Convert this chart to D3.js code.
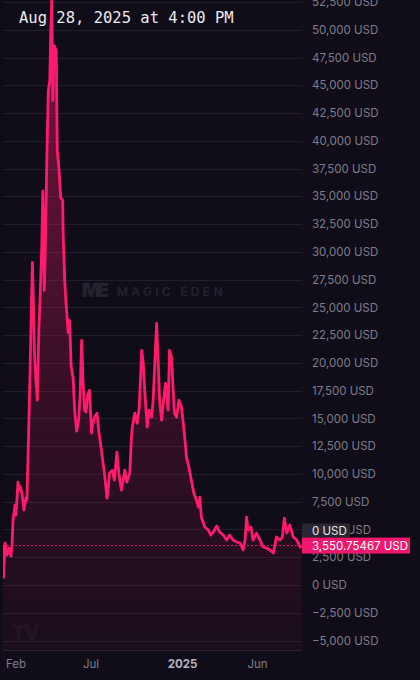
<!DOCTYPE html>
<html><head><meta charset="utf-8">
<script src="https://cdn.jsdelivr.net/npm/d3@7"></script>
<style>
html,body{margin:0;padding:0;background:#100d18;}
svg{display:block;}
</style></head>
<body>
<script>
const dates = ["2024-01-06","2024-01-07","2024-01-10","2024-01-14","2024-01-18","2024-01-22","2024-01-24","2024-01-26","2024-01-30","2024-02-01",
"2024-02-05","2024-02-07","2024-02-09","2024-02-13","2024-02-17","2024-02-21","2024-02-23","2024-02-25","2024-02-27","2024-02-29",
"2024-03-02","2024-03-05","2024-03-07","2024-03-09","2024-03-12","2024-03-15","2024-03-18","2024-03-21","2024-03-24","2024-03-26",
"2024-03-29","2024-03-31","2024-04-03","2024-04-06","2024-04-09","2024-04-11","2024-04-13","2024-04-15","2024-04-18","2024-04-22",
"2024-04-24","2024-04-27","2024-05-01","2024-05-05","2024-05-06","2024-05-09","2024-05-12","2024-05-16","2024-05-19","2024-05-22",
"2024-05-26","2024-05-29","2024-06-02","2024-06-06","2024-06-09","2024-06-12","2024-06-15","2024-06-18","2024-06-21","2024-06-24",
"2024-06-28","2024-07-02","2024-07-04","2024-07-08","2024-07-13","2024-07-17","2024-07-22","2024-07-25","2024-07-28","2024-08-02",
"2024-08-04","2024-08-07","2024-08-13","2024-08-17","2024-08-22","2024-08-26","2024-08-31","2024-09-03","2024-09-07","2024-09-11",
"2024-09-17","2024-09-20","2024-09-22","2024-09-27","2024-10-02","2024-10-06","2024-10-11","2024-10-14","2024-10-17","2024-10-22",
"2024-10-26","2024-10-31","2024-11-03","2024-11-06","2024-11-10","2024-11-13","2024-11-16","2024-11-20","2024-11-24","2024-11-28",
"2024-12-03","2024-12-06","2024-12-10","2024-12-13","2024-12-16","2024-12-20","2024-12-25","2024-12-30","2025-01-02","2025-01-06",
"2025-01-09","2025-01-14","2025-01-19","2025-01-24","2025-01-29","2025-02-02","2025-02-05","2025-02-08","2025-02-15","2025-02-22",
"2025-02-27","2025-03-04","2025-03-11","2025-03-17","2025-03-24","2025-03-31","2025-04-06","2025-04-13","2025-04-20","2025-04-27",
"2025-05-03","2025-05-07","2025-05-10","2025-05-13","2025-05-19","2025-05-23","2025-05-30","2025-06-06","2025-06-12","2025-06-19",
"2025-06-26","2025-07-03","2025-07-09","2025-07-16","2025-07-21","2025-07-25","2025-07-30","2025-08-05","2025-08-12","2025-08-19",
"2025-08-26","2025-08-28"];
const prices = [3600,700,3780,2700,3330,2600,3600,5850,7200,6300,
9260,8540,8900,8270,6750,7820,7640,11240,14840,18440,
22930,29050,25630,21130,18440,16640,22930,26530,30670,35500,
26530,30130,38220,44510,45410,49910,52700,43620,48560,48110,
39120,37770,34890,34620,31470,27430,25180,22750,23830,19690,
18620,15740,13850,14840,17090,22030,18260,15740,15560,17090,
17540,13670,14390,15110,15470,13670,12140,11060,10070,7820,
8360,10070,10340,9440,11960,10070,8540,9260,10340,9260,
10070,13040,14210,15470,14570,16010,21130,20050,17540,14210,
15740,15110,16640,19600,23560,20230,16640,14840,16640,18170,
15740,21130,20500,17810,15470,15110,16640,16010,14840,13040,
11510,10610,9440,8270,7640,7010,7910,6120,5220,4950,
4500,4770,5310,4770,4500,4050,4500,4050,3870,3780,
3150,4050,6120,4950,5220,4050,4680,4050,3420,3330,
3150,2880,4320,4050,4320,6030,4680,5400,4320,4050,
3420,3550.75467];
const yTicks = [-5000,-2500,0,2500,5000,7500,10000,12500,15000,17500,20000,22500,25000,27500,30000,32500,35000,37500,40000,42500,45000,47500,50000,52500];
const xTickDates = ["2024-02-01","2024-07-01","2025-01-01","2025-06-01"];
const xTickLabels = ["Feb","Jul","2025","Jun"];
const title = "Aug 28, 2025 at 4:00 PM";
const lastPrice = 3550.75467;
const lastLabel = "3,550.75467 USD";
const crossLabel = "0 USD";

const W = 420, H = 680;
const parse = d3.utcParse("%Y-%m-%d");
const data = dates.map((d,i)=>({date:parse(d), value:prices[i]}));

const x = d3.scaleUtc().domain([parse("2024-02-01"), parse("2025-06-01")]).range([16, 257.5]);
const y = d3.scaleLinear().domain([0, 52500]).range([585, 2]);
const plotL = 3, plotR = 302, plotB = 650;

const svg = d3.select("body").append("svg").attr("width", W).attr("height", H);
svg.append("rect").attr("width", W).attr("height", H).attr("fill", "#100d18");

const defs = svg.append("defs");
const grad = defs.append("linearGradient").attr("id","fillg").attr("gradientUnits","userSpaceOnUse")
  .attr("x1",0).attr("y1",0).attr("x2",0).attr("y2",plotB);
grad.append("stop").attr("offset","0").attr("stop-color","#ff1a6c").attr("stop-opacity",0.45);
grad.append("stop").attr("offset","0.6").attr("stop-color","#ff1a6c").attr("stop-opacity",0.16);
grad.append("stop").attr("offset","1").attr("stop-color","#ff1a6c").attr("stop-opacity",0.04);
defs.append("clipPath").attr("id","clip").append("rect").attr("x",plotL).attr("y",0).attr("width",plotR-plotL).attr("height",plotB);

// grid
const grid = svg.append("g");
grid.selectAll("line.g").data(yTicks).join("line")
  .attr("x1", plotL).attr("x2", plotR).attr("y1", d=>Math.round(y(d))+0.5).attr("y2", d=>Math.round(y(d))+0.5)
  .attr("stroke", "#221f2c").attr("stroke-width", 1);
grid.append("line").attr("x1",plotL).attr("x2",plotR).attr("y1",plotB+0.5).attr("y2",plotB+0.5).attr("stroke","#2a2733");

// watermark
const wm = svg.append("g").attr("fill","#25222f");
wm.append("text").attr("x",82).attr("y",297).attr("font-family","Inter, sans-serif").attr("font-weight",900)
  .attr("font-size",19).attr("letter-spacing",-3).text("ME");
wm.append("text").attr("x",117).attr("y",296).attr("font-family","Inter, sans-serif").attr("font-weight",600)
  .attr("font-size",12).attr("letter-spacing",3.3).text("MAGIC EDEN");
svg.append("text").attr("x",12).attr("y",640).attr("fill","#17141f").attr("font-family","Inter, sans-serif")
  .attr("font-weight",900).attr("font-size",20).attr("letter-spacing",-2).text("TV");

// area + line
const g = svg.append("g").attr("clip-path","url(#clip)");
g.append("path").datum(data)
  .attr("d", d3.area().x(d=>x(d.date)).y0(plotB).y1(d=>y(d.value)))
  .attr("fill","url(#fillg)");
g.append("line").attr("x1",plotL).attr("x2",plotR).attr("y1",y(lastPrice)).attr("y2",y(lastPrice))
  .attr("stroke","#ff1a6c").attr("stroke-width",1).attr("stroke-dasharray","2,2").attr("opacity",0.9);
g.append("path").datum(data)
  .attr("d", d3.line().x(d=>x(d.date)).y(d=>y(d.value)))
  .attr("fill","none").attr("stroke","#ff1a6c").attr("stroke-width",2.8).attr("stroke-linejoin","round");

// y labels
svg.append("g").selectAll("text").data(yTicks).join("text")
  .attr("x", 312).attr("y", d=>y(d)).attr("dy","0.36em")
  .attr("fill","#7f7c8a").attr("font-family","Inter, sans-serif").attr("font-size",11.5)
  .text(d=>d3.format(",")(d)+" USD");

// x labels
svg.append("g").selectAll("text").data(xTickDates).join("text")
  .attr("x", d=>x(parse(d))).attr("y", 668).attr("text-anchor","middle")
  .attr("fill", (d,i)=> xTickLabels[i]==="2025" ? "#b5b2bd" : "#7f7c8a")
  .attr("font-weight", (d,i)=> xTickLabels[i]==="2025" ? 700 : 400)
  .attr("font-family","Inter, sans-serif").attr("font-size",11.5)
  .text((d,i)=>xTickLabels[i]);

// crosshair label
svg.append("rect").attr("x",302).attr("y",y(5000)-6).attr("width",48).attr("height",14).attr("fill","#2a2733");
svg.append("text").attr("x",312).attr("y",y(5000)+1).attr("dy","0.36em").attr("fill","#e6e4ec")
  .attr("font-family","Inter, sans-serif").attr("font-size",11.5).text(crossLabel);
// last price label
svg.append("rect").attr("x",302).attr("y",y(lastPrice)-8).attr("width",108).attr("height",16).attr("fill","#f0186c");
svg.append("text").attr("x",312).attr("y",y(lastPrice)).attr("dy","0.36em").attr("fill","#ffffff")
  .attr("font-family","Inter, sans-serif").attr("font-size",11.5).text(lastLabel);

// title
svg.append("text").attr("x",19).attr("y",23).attr("fill","#ebe9f0")
  .attr("font-family","'DejaVu Sans Mono', monospace").attr("font-size",15.5).text(title);
</script>
</body></html>
